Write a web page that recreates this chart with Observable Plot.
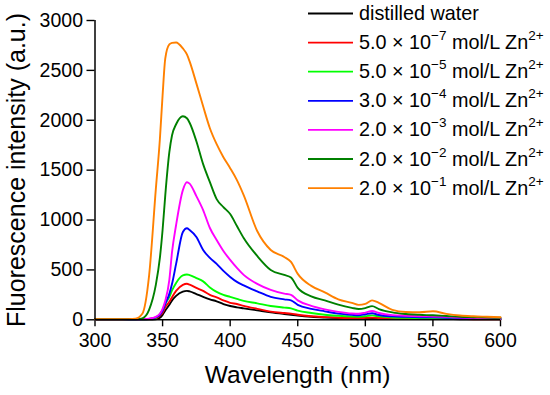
<!DOCTYPE html>
<html>
<head>
<meta charset="utf-8">
<script src="https://cdn.jsdelivr.net/npm/d3@7"></script>
<script src="https://cdn.jsdelivr.net/npm/@observablehq/plot@0.6"></script>
<style>
  html, body { margin: 0; padding: 0; background: #fff; }
  #chart { width: 550px; height: 395px; }
</style>
</head>
<body>
<div id="chart"></div>
<script>
// ---- data ----
const wavelength = [300, 320, 330, 335, 340, 345, 348, 350, 352, 355, 357, 360, 365, 368, 370, 375, 380, 385, 390, 395, 400, 405, 410, 420, 430, 440, 445, 450, 460, 470, 480, 490, 495, 500, 505, 510, 520, 530, 540, 550, 560, 570, 580, 590, 600];

const distilledWater = [3, 3, 3, 3, 3, 5, 20, 50, 93, 150, 194, 240, 283, 290, 285, 258, 230, 205, 185, 158, 138, 125, 115, 95, 75, 58, 50, 42, 30, 23, 18, 15, 15, 15, 16, 14, 11, 10, 9, 8, 7, 6, 5, 5, 5];
const zn5e7 = [3, 3, 3, 4, 8, 15, 43, 70, 127, 180, 227, 290, 350, 361, 352, 320, 290, 250, 225, 195, 170, 158, 140, 110, 82, 68, 62, 50, 35, 27, 21, 18, 17, 19, 22, 18, 14, 12, 10, 9, 8, 7, 6, 5, 5];
const zn5e5 = [3, 3, 3, 4, 8, 20, 60, 95, 160, 230, 294, 370, 445, 454, 448, 418, 385, 325, 280, 250, 230, 210, 190, 165, 138, 122, 115, 92, 68, 50, 40, 33, 31, 36, 44, 34, 23, 19, 17, 16, 14, 12, 10, 9, 8];
const zn3e4 = [3, 3, 3, 4, 8, 25, 50, 90, 160, 260, 361, 560, 880, 918, 900, 830, 700, 620, 560, 490, 430, 380, 345, 285, 230, 205, 195, 150, 110, 85, 62, 50, 46, 55, 65, 48, 34, 29, 26, 24, 21, 18, 15, 12, 10];
const zn2e3 = [5, 5, 5, 7, 12, 30, 60, 110, 190, 400, 680, 950, 1300, 1379, 1365, 1240, 1100, 920, 800, 690, 600, 520, 450, 360, 300, 262, 250, 195, 140, 105, 80, 63, 60, 72, 88, 68, 47, 41, 36, 33, 29, 23, 19, 16, 13];
const zn2e2 = [5, 5, 5, 15, 100, 350, 620, 900, 1250, 1680, 1850, 1960, 2040, 2020, 1975, 1790, 1560, 1380, 1210, 1130, 1060, 940, 820, 640, 500, 450, 425, 320, 235, 195, 152, 120, 108, 117, 137, 108, 74, 58, 50, 45, 38, 30, 26, 22, 20];
const zn2e1 = [5, 5, 12, 60, 440, 1310, 1810, 2250, 2620, 2760, 2775, 2780, 2720, 2660, 2590, 2370, 2140, 1920, 1760, 1630, 1520, 1400, 1250, 890, 700, 630, 580, 460, 340, 275, 205, 170, 150, 160, 195, 170, 100, 78, 75, 85, 60, 43, 35, 30, 25];

const seriesKeys = ["dw", "r", "lg", "b", "m", "g", "o"];
const seriesValues = [distilledWater, zn5e7, zn5e5, zn3e4, zn2e3, zn2e2, zn2e1];
const seriesColors = ["#000000", "#ff0000", "#00ff00", "#0000ff", "#ff00ff", "#008000", "#ff8000"];
// legend labels: coefficient and superscript exponent; null = plain text
const legendCoef = [null, "5.0", "5.0", "3.0", "2.0", "2.0", "2.0"];
const legendExp = [null, "\u22127", "\u22125", "\u22124", "\u22123", "\u22122", "\u22121"];
const xTicks = [300, 350, 400, 450, 500, 550, 600];
const yTicks = [0, 500, 1000, 1500, 2000, 2500, 3000];
const xLabel = "Wavelength (nm)";
const yLabel = "Fluorescence intensity (a.u.)";

const rows = seriesKeys.flatMap((k, i) => wavelength.map((w, j) => ({key: k, w, v: seriesValues[i][j]})));

const FONT = "'Liberation Sans', Arial, Helvetica, sans-serif";

const chart = Plot.plot({
  width: 550,
  height: 395,
  marginLeft: 94.5,
  marginRight: 50,
  marginTop: 20,
  marginBottom: 75.7,
  style: {fontFamily: FONT, fontSize: "19.5px", background: "#fff", color: "#000", overflow: "visible"},
  x: {domain: [300, 600], label: null},
  y: {domain: [0, 3000], label: null},
  color: {domain: seriesKeys, range: seriesColors},
  marks: [
    Plot.axisX({ticks: xTicks, tickFormat: d3.format("d"), tickSize: 7, tickPadding: 6, label: null, strokeWidth: 1.4}),
    Plot.axisY({ticks: yTicks, tickFormat: d3.format("d"), tickSize: 8, tickPadding: 4, label: null, strokeWidth: 1.4}),
    Plot.line(rows, {x: "w", y: "v", z: "key", stroke: "key", strokeWidth: 1.9, curve: "monotone-x"}),
    Plot.ruleX([300], {strokeWidth: 1.5}),
    Plot.ruleY([0], {strokeWidth: 1.5})
  ]
});

document.getElementById("chart").appendChild(chart);

const svg = d3.select(chart);

// axis titles
svg.append("text")
  .attr("x", 297.5).attr("y", 383)
  .attr("text-anchor", "middle")
  .style("font-family", FONT).style("font-size", "24.5px").attr("fill", "#000")
  .text(xLabel);

svg.append("text")
  .attr("transform", "translate(25,170) rotate(-90)")
  .attr("text-anchor", "middle")
  .style("font-family", FONT).style("font-size", "25px").attr("fill", "#000")
  .text(yLabel);

// legend
const lg = svg.append("g").style("font-family", FONT).attr("text-anchor", "start");
seriesKeys.forEach((k, i) => {
  const y = 13.5 + i * 29.1;
  lg.append("line")
    .attr("x1", 308).attr("x2", 353).attr("y1", y).attr("y2", y)
    .attr("stroke", seriesColors[i]).attr("stroke-width", 1.8);
  const t = lg.append("text").attr("x", 359).attr("y", y + 6.5)
    .attr("text-anchor", "start")
    .style("font-size", "19.8px").attr("fill", "#000");
  if (legendCoef[i] === null) {
    t.text("distilled water");
  } else {
    t.append("tspan").text(legendCoef[i] + " \u00d7 10");
    t.append("tspan").attr("dy", -9).style("font-size", "13.5px").text(legendExp[i]);
    t.append("tspan").attr("dy", 9).text(" mol/L Zn");
    t.append("tspan").attr("dy", -9).style("font-size", "13.5px").text("2+");
  }
});
</script>
</body>
</html>
